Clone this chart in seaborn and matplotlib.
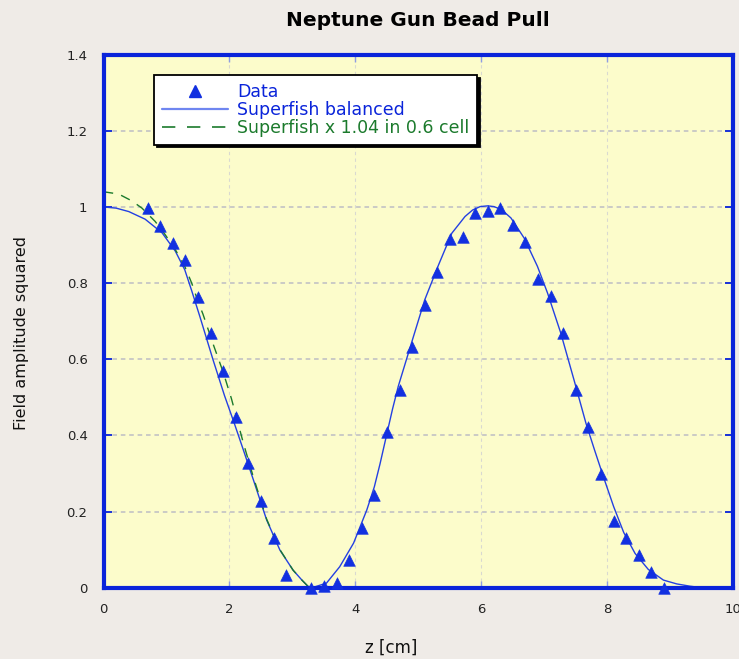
import matplotlib
matplotlib.use("Agg")
import matplotlib.pyplot as plt
from matplotlib.lines import Line2D
import seaborn as sns
import pandas as pd

# ---- data ----
data_z = [0.7, 0.9, 1.1, 1.3, 1.5, 1.7, 1.9, 2.1, 2.3, 2.5, 2.7, 2.9,
          3.3, 3.5, 3.7, 3.9, 4.1, 4.3, 4.5, 4.7, 4.9, 5.1, 5.3, 5.5, 5.7,
          5.9, 6.1, 6.3, 6.5, 6.7, 6.9, 7.1, 7.3, 7.5, 7.7, 7.9, 8.1, 8.3,
          8.5, 8.7, 8.9]
data_e2 = [0.997, 0.951, 0.906, 0.861, 0.764, 0.668, 0.570, 0.448, 0.327,
           0.228, 0.130, 0.033, 0.0, 0.005, 0.012, 0.073, 0.158, 0.244,
           0.410, 0.519, 0.633, 0.743, 0.830, 0.915, 0.922, 0.983, 0.990,
           0.998, 0.953, 0.907, 0.810, 0.766, 0.668, 0.519, 0.423, 0.299,
           0.176, 0.130, 0.086, 0.040, 0.0]

sf_z = [0.0, 0.2, 0.4, 0.66, 0.93, 1.14, 1.29, 1.40, 1.53, 1.74, 1.92,
        2.08, 2.22, 2.38, 2.59, 2.80, 3.01, 3.15, 3.25, 3.35, 3.54, 3.75,
        3.97, 4.18, 4.30, 4.39, 4.50, 4.59, 4.68, 4.89, 5.10, 5.32, 5.53,
        5.74, 5.86, 5.98, 6.10, 6.20, 6.32, 6.47, 6.68, 6.89, 7.05, 7.26,
        7.47, 7.66, 7.80, 7.94, 8.10, 8.26, 8.44, 8.65, 8.89, 9.10, 9.31,
        9.5]
sf_e2 = [1.0, 0.997, 0.988, 0.968, 0.932, 0.884, 0.835, 0.780, 0.712,
         0.598, 0.505, 0.430, 0.362, 0.283, 0.178, 0.099, 0.046, 0.020,
         0.003, 0.002, 0.012, 0.055, 0.117, 0.204, 0.265, 0.325, 0.405,
         0.470, 0.529, 0.643, 0.756, 0.848, 0.931, 0.975, 0.992, 1.001,
         1.003, 1.001, 0.993, 0.971, 0.918, 0.844, 0.774, 0.669, 0.546,
         0.432, 0.360, 0.290, 0.213, 0.145, 0.090, 0.048, 0.020, 0.010,
         0.004, 0.0]

sf104_z = [0.0, 0.24, 0.45, 0.61, 0.82, 0.98, 1.14, 1.29, 1.40, 1.50,
           1.58, 1.74, 1.90, 2.03, 2.22, 2.38, 2.59, 2.80, 3.01, 3.15,
           3.25, 3.30]
sf104_e2 = [1.040, 1.034, 1.016, 0.997, 0.962, 0.927, 0.888, 0.844, 0.800,
            0.752, 0.718, 0.640, 0.566, 0.497, 0.380, 0.290, 0.180, 0.100,
            0.046, 0.020, 0.003, 0.0]

x_ticks = [0, 2, 4, 6, 8, 10]
y_ticks = [0, 0.2, 0.4, 0.6, 0.8, 1.0, 1.2, 1.4]
y_ticklabels = ["0", "0.2", "0.4", "0.6", "0.8", "1", "1.2", "1.4"]
legend_labels = ["Data", "Superfish balanced", "Superfish x 1.04 in 0.6 cell"]

# ---- styling ----
BG = "#EFEBE7"
AX_BG = "#FCFCCB"
SPINE = "#0A24DA"
MARK = "#1230E0"
BLUE_LINE = "#2440E2"
GREEN = "#1B7A2C"

sns.set_style("white")
plt.rcParams["font.family"] = ["DejaVu Sans"]

fig = plt.figure(figsize=(7.39, 6.59), dpi=100, facecolor=BG)
ax = fig.add_axes([0.1401, 0.1082, 0.8522, 0.8088])
ax.set_facecolor(AX_BG)

df_data = pd.DataFrame({"z": data_z, "e2": data_e2})
df_sf = pd.DataFrame({"z": sf_z, "e2": sf_e2})
df_sf104 = pd.DataFrame({"z": sf104_z, "e2": sf104_e2})

sns.lineplot(data=df_sf, x="z", y="e2", ax=ax, color=BLUE_LINE, lw=1.0,
             errorbar=None, legend=False, zorder=2)
sns.lineplot(data=df_sf104, x="z", y="e2", ax=ax, color=GREEN, lw=1.0,
             errorbar=None, legend=False, zorder=2, linestyle=(0, (7, 6)))
sns.scatterplot(data=df_data, x="z", y="e2", ax=ax, marker="^", s=70,
                color=MARK, edgecolor=MARK, linewidth=0.4, zorder=4,
                clip_on=False, legend=False)

ax.set_xlim(0, 10)
ax.set_ylim(0, 1.4)
ax.set_xticks(x_ticks)
ax.set_xticklabels([str(t) for t in x_ticks])
ax.set_yticks(y_ticks)
ax.set_yticklabels(y_ticklabels)
ax.set_xlabel("")
ax.set_ylabel("")

for s in ax.spines.values():
    s.set_color(SPINE)
    s.set_linewidth(3.0)
    s.set_visible(True)

ax.tick_params(axis="y", direction="in", left=True, right=True, length=6,
               width=1.3, color=SPINE, labelsize=9.5, labelcolor="#222222", pad=11.5)
ax.tick_params(axis="x", direction="in", top=True, bottom=True, length=5,
               width=1.0, color="#8E9CE2", labelsize=9.5, labelcolor="#222222", pad=11)

ax.set_axisbelow(True)
ax.yaxis.grid(True, color="#BDBDC4", linestyle=(0, (3, 2.5)), linewidth=1.1)
ax.xaxis.grid(True, color="#D9D9D0", linestyle=(0, (3, 3)), linewidth=0.8)

handles = [
    Line2D([], [], color=MARK, marker="^", linestyle="none", markersize=8),
    Line2D([], [], color="#6F86F0", lw=1.6),
    Line2D([], [], color=GREEN, lw=1.2, linestyle=(0, (8, 7))),
]
leg = ax.legend(handles, legend_labels, loc="upper left",
                bbox_to_anchor=(0.080, 0.962), borderaxespad=0,
                fontsize=12.5, frameon=True, fancybox=False,
                shadow={"color": "black", "alpha": 1},
                labelcolor=[SPINE, SPINE, GREEN], labelspacing=0.0,
                handlelength=3.8, handletextpad=0.55, borderpad=0.45)
leg.get_frame().set_edgecolor("black")
leg.get_frame().set_linewidth(1.3)
leg.get_frame().set_facecolor("white")
leg.get_frame().set_alpha(1)
leg.set_zorder(6)

fig.text(418 / 739, 1 - 21 / 659, "Neptune Gun Bead Pull", ha="center",
         va="center", fontsize=14.5, fontweight="bold", color="black")
fig.text(391 / 739, 1 - 648 / 659, "z [cm]", ha="center", va="center",
         fontsize=12, color="#111111")
fig.text(22 / 739, 1 - 333 / 659, "Field amplitude squared", ha="center",
         va="center", rotation=90, fontsize=11.5, color="#111111")

fig.savefig("out.png", dpi=100, facecolor=BG)
